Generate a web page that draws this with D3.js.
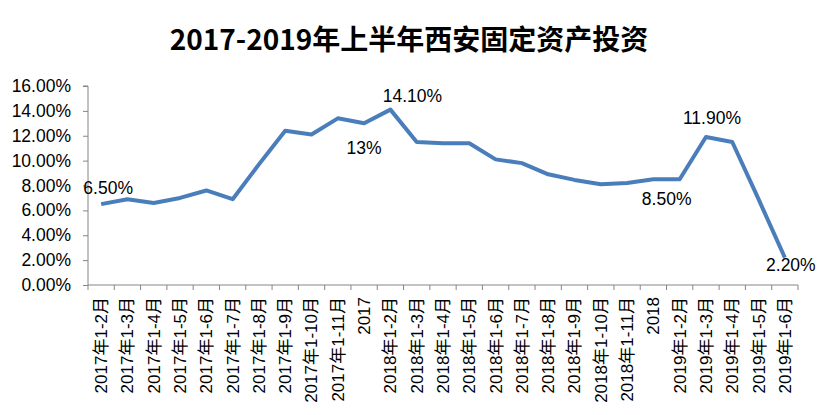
<!DOCTYPE html>
<html>
<head>
<meta charset="utf-8">
<script src="https://cdn.jsdelivr.net/npm/d3@7"></script>
<style>
  html, body { margin: 0; padding: 0; background: #fff; }
  svg { display: block; }
</style>
</head>
<body>
<svg id="chart" width="819" height="415"></svg>
<script>
// ---- data ----
const categories = [
  "2017年1-2月","2017年1-3月","2017年1-4月","2017年1-5月","2017年1-6月","2017年1-7月",
  "2017年1-8月","2017年1-9月","2017年1-10月","2017年1-11月","2017",
  "2018年1-2月","2018年1-3月","2018年1-4月","2018年1-5月","2018年1-6月","2018年1-7月",
  "2018年1-8月","2018年1-9月","2018年1-10月","2018年1-11月","2018",
  "2019年1-2月","2019年1-3月","2019年1-4月","2019年1-5月","2019年1-6月"
];
const values = [
  6.5, 6.9, 6.6, 7.0, 7.6, 6.9,
  9.7, 12.4, 12.1, 13.4, 13.0,
  14.1, 11.5, 11.4, 11.4, 10.1, 9.8,
  8.9, 8.45, 8.1, 8.2, 8.5,
  8.5, 11.9, 11.5, 6.9, 2.2
];
const yTicks = [0, 2, 4, 6, 8, 10, 12, 14, 16];
const labelIndex = [0, 10, 11, 22, 23, 26];
const labelText  = ["6.50%", "13%", "14.10%", "8.50%", "11.90%", "2.20%"];
const title = "2017-2019年上半年西安固定资产投资";

// ---- layout ----
const labelOffset = [[7, -16], [0, 25], [22, -14], [-13, 20], [6, -19], [6, 7]];
const svg = d3.select("#chart");
const mLeft = 88, mRight = 798, mTop = 86, mBottom = 285;
const numFont = "'Liberation Sans', 'Noto Sans CJK SC', sans-serif";

const x = d3.scaleBand().domain(categories).range([mLeft, mRight]).padding(0);
const y = d3.scaleLinear().domain([0, 16]).range([mBottom, mTop]);

// title
svg.append("text")
  .attr("x", 409).attr("y", 50)
  .attr("text-anchor", "middle")
  .attr("font-family", "'Noto Sans CJK SC', sans-serif")
  .attr("font-weight", "bold")
  .attr("font-size", 28)
  .attr("fill", "#000")
  .text(title);

// y axis
const yAxis = svg.append("g")
  .attr("transform", `translate(${mLeft},0)`)
  .call(d3.axisLeft(y).tickValues(yTicks).tickSize(5).tickPadding(12)
    .tickFormat(d => d.toFixed(2) + "%"));
yAxis.select(".domain").attr("stroke", "#868686").attr("d", `M-5,${mTop}H0V${mBottom}`);
yAxis.selectAll(".tick line").attr("stroke", "#868686");
yAxis.selectAll(".tick text")
  .attr("font-family", numFont).attr("font-size", 17.5).attr("fill", "#000");

// x axis
const xAxis = svg.append("g")
  .attr("transform", `translate(0,${mBottom})`)
  .call(d3.axisBottom(x).tickSize(0).tickPadding(0));
xAxis.select(".domain").attr("stroke", "#868686").attr("d", `M${mLeft},0H${mRight}`);
xAxis.selectAll(".tick text")
  .attr("font-family", numFont).attr("font-size", 17).attr("fill", "#000")
  .attr("text-anchor", "end")
  .attr("dy", "0.35em")
  .attr("transform", "translate(0,12) rotate(-90)")
  .attr("y", 0).attr("x", 0);
// category boundary ticks
const bounds = categories.map(c => x(c)).concat([mRight]);
xAxis.selectAll("line.bound").data(bounds).join("line")
  .attr("class", "bound")
  .attr("x1", d => d).attr("x2", d => d)
  .attr("y1", 0).attr("y2", 5)
  .attr("stroke", "#868686");

// line
const line = d3.line()
  .x((d, i) => x(categories[i]) + x.bandwidth() / 2)
  .y(d => y(d));
svg.append("path")
  .datum(values)
  .attr("d", line)
  .attr("fill", "none")
  .attr("stroke", "#4A7EBB")
  .attr("stroke-width", 4)
  .attr("stroke-linejoin", "round");

// data labels
svg.append("g").selectAll("text").data(labelIndex).join("text")
  .attr("x", (d, i) => x(categories[d]) + x.bandwidth() / 2 + labelOffset[i][0])
  .attr("y", (d, i) => y(values[d]) + labelOffset[i][1])
  .attr("text-anchor", "middle")
  .attr("dy", "0.35em")
  .attr("font-family", numFont)
  .attr("font-size", 17.5)
  .attr("fill", "#000")
  .text((d, i) => labelText[i]);
</script>
</body>
</html>
